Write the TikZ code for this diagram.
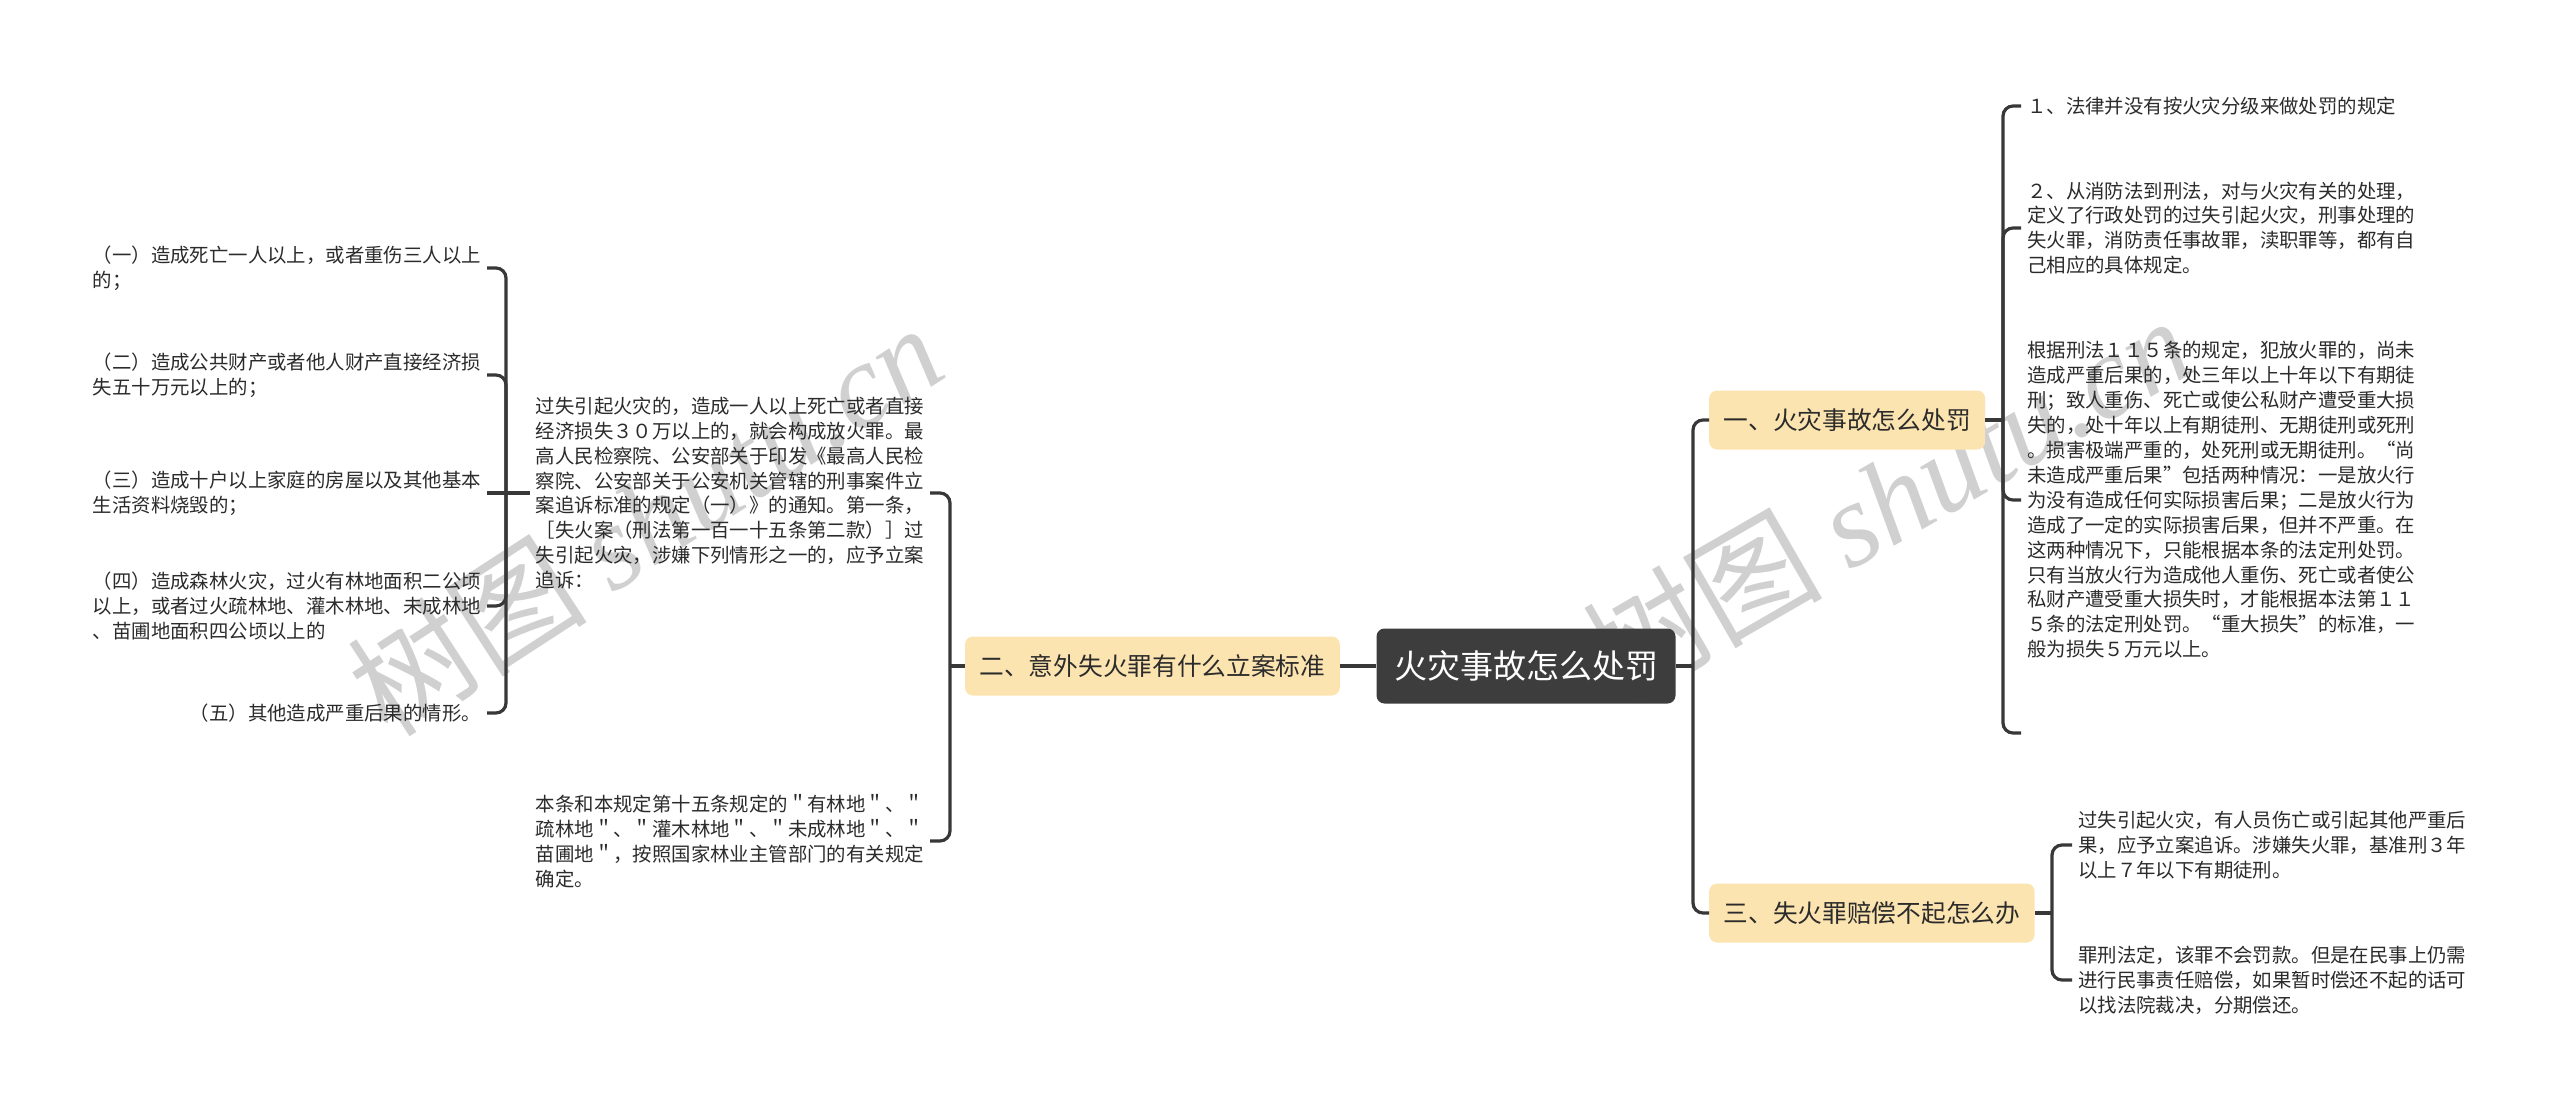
\documentclass[tikz,border=0pt]{standalone}
\usepackage{fontspec}
\setmainfont{Noto Sans CJK SC}
\newfontfamily\wmlatin{Liberation Serif}
\definecolor{lineC}{HTML}{383838}
\definecolor{txtC}{HTML}{2B2B2B}
\definecolor{brC}{HTML}{FCE4B0}
\definecolor{rootC}{HTML}{3D3D3D}
\definecolor{wmC}{HTML}{D0D0D0}
\newcommand\leaffont{\fontsize{19.4}{24.9}\selectfont}
\tikzset{
  conn/.style={draw=lineC, line width=3.2pt, rounded corners=10pt},
  leafR/.style={anchor=west, align=left, inner xsep=6pt, inner ysep=3pt, font=\leaffont, text=txtC},
  leafL/.style={anchor=east, align=left, inner xsep=6pt, inner ysep=3pt, font=\leaffont, text=txtC},
  branch/.style={fill=brC, rounded corners=8pt, minimum height=59pt, inner xsep=14.5pt, font=\fontsize{24.7}{30}\selectfont, text=txtC},
  rootbox/.style={fill=rootC, rounded corners=8pt, minimum height=75pt, inner xsep=17.5pt, text=white, font=\fontsize{33}{40}\selectfont},
  wmark/.style={text=wmC, font=\fontsize{120}{130}\selectfont, inner sep=0pt}
}
\begin{document}
\begin{tikzpicture}[x=1pt,y=-1pt]
\path[use as bounding box, fill=white] (0,0) rectangle (2560,1111);

% watermarks
\node[wmark, rotate=33] (wm1) at (645,519) {树图 {\wmlatin\itshape shutu.cn}};
\node[wmark, rotate=30] (wm2) at (1886,498) {树图 {\wmlatin\itshape shutu.cn}};

% main nodes
\node[rootbox] (root) at (1526,666) {火灾事故怎么处罚};
\node[branch, anchor=west] (b1) at (1709,420) {一、火灾事故怎么处罚};
\node[branch, anchor=east] (b2) at (1340,666) {二、意外失火罪有什么立案标准};
\node[branch, anchor=west] (b3) at (1709,913) {三、失火罪赔偿不起怎么办};

% right leaves of branch 1
\node[leafR] (c1) at (2021,106) {１、法律并没有按火灾分级来做处罚的规定};
\node[leafR] (c2) at (2021,228) {２、从消防法到刑法，对与火灾有关的处理，\\定义了行政处罚的过失引起火灾，刑事处理的\\失火罪，消防责任事故罪，渎职罪等，都有自\\己相应的具体规定。};
\node[leafR] (c3) at (2021,500) {根据刑法１１５条的规定，犯放火罪的，尚未\\造成严重后果的，处三年以上十年以下有期徒\\刑；致人重伤、死亡或使公私财产遭受重大损\\失的，处十年以上有期徒刑、无期徒刑或死刑\\。损害极端严重的，处死刑或无期徒刑。“尚\\未造成严重后果”包括两种情况：一是放火行\\为没有造成任何实际损害后果；二是放火行为\\造成了一定的实际损害后果，但并不严重。在\\这两种情况下，只能根据本条的法定刑处罚。\\只有当放火行为造成他人重伤、死亡或者使公\\私财产遭受重大损失时，才能根据本法第１１\\５条的法定刑处罚。“重大损失”的标准，一\\般为损失５万元以上。};
\coordinate (c4) at (2021,733);

% right leaves of branch 3
\node[leafR] (d1) at (2072,845) {过失引起火灾，有人员伤亡或引起其他严重后\\果，应予立案追诉。涉嫌失火罪，基准刑３年\\以上７年以下有期徒刑。};
\node[leafR] (d2) at (2072,980) {罪刑法定，该罪不会罚款。但是在民事上仍需\\进行民事责任赔偿，如果暂时偿还不起的话可\\以找法院裁决，分期偿还。};

% left leaves of branch 2
\node[leafL] (p1) at (930,493) {过失引起火灾的，造成一人以上死亡或者直接\\经济损失３０万以上的，就会构成放火罪。最\\高人民检察院、公安部关于印发《最高人民检\\察院、公安部关于公安机关管辖的刑事案件立\\案追诉标准的规定（一）》的通知。第一条，\\［失火案（刑法第一百一十五条第二款）］过\\失引起火灾，涉嫌下列情形之一的，应予立案\\追诉：};
\node[leafL] (p2) at (930,841) {本条和本规定第十五条规定的＂有林地＂、＂\\疏林地＂、＂灌木林地＂、＂未成林地＂、＂\\苗圃地＂，按照国家林业主管部门的有关规定\\确定。};

% left leaves of p1
\node[leafL] (l1) at (487,268) {（一）造成死亡一人以上，或者重伤三人以上\\的；};
\node[leafL] (l2) at (487,375) {（二）造成公共财产或者他人财产直接经济损\\失五十万元以上的；};
\node[leafL] (l3) at (487,493) {（三）造成十户以上家庭的房屋以及其他基本\\生活资料烧毁的；};
\node[leafL] (l4) at (487,606) {（四）造成森林火灾，过火有林地面积二公顷\\以上，或者过火疏林地、灌木林地、未成林地\\、苗圃地面积四公顷以上的};
\node[leafL] (l5) at (487,713) {（五）其他造成严重后果的情形。};

% junctions
\coordinate (jr) at (1693,666);
\coordinate (j1) at (2003,420);
\coordinate (j3) at (2052,913);
\coordinate (j2) at (950,666);
\coordinate (jp) at (506,493);

% connectors
\draw[conn] (root.west) -- (b2.east);
\draw[conn] (root.east) -- (jr);
\draw[conn] (jr) |- (b1.west);
\draw[conn] (jr) |- (b3.west);

\draw[conn] (b1.east) -- (j1);
\draw[conn] (j1) |- (c1.west);
\draw[conn] (j1) |- (c2.west);
\draw[conn] (j1) |- (c3.west);
\draw[conn] (j1) |- (c4);

\draw[conn] (b3.east) -- (j3);
\draw[conn] (j3) |- (d1.west);
\draw[conn] (j3) |- (d2.west);

\draw[conn] (b2.west) -- (j2);
\draw[conn] (j2) |- (p1.east);
\draw[conn] (j2) |- (p2.east);

\draw[conn] (p1.west) -- (jp);
\draw[conn] (jp) |- (l1.east);
\draw[conn] (jp) |- (l2.east);
\draw[conn] (jp) -- (l3.east);
\draw[conn] (jp) |- (l4.east);
\draw[conn] (jp) |- (l5.east);
\end{tikzpicture}
\end{document}
